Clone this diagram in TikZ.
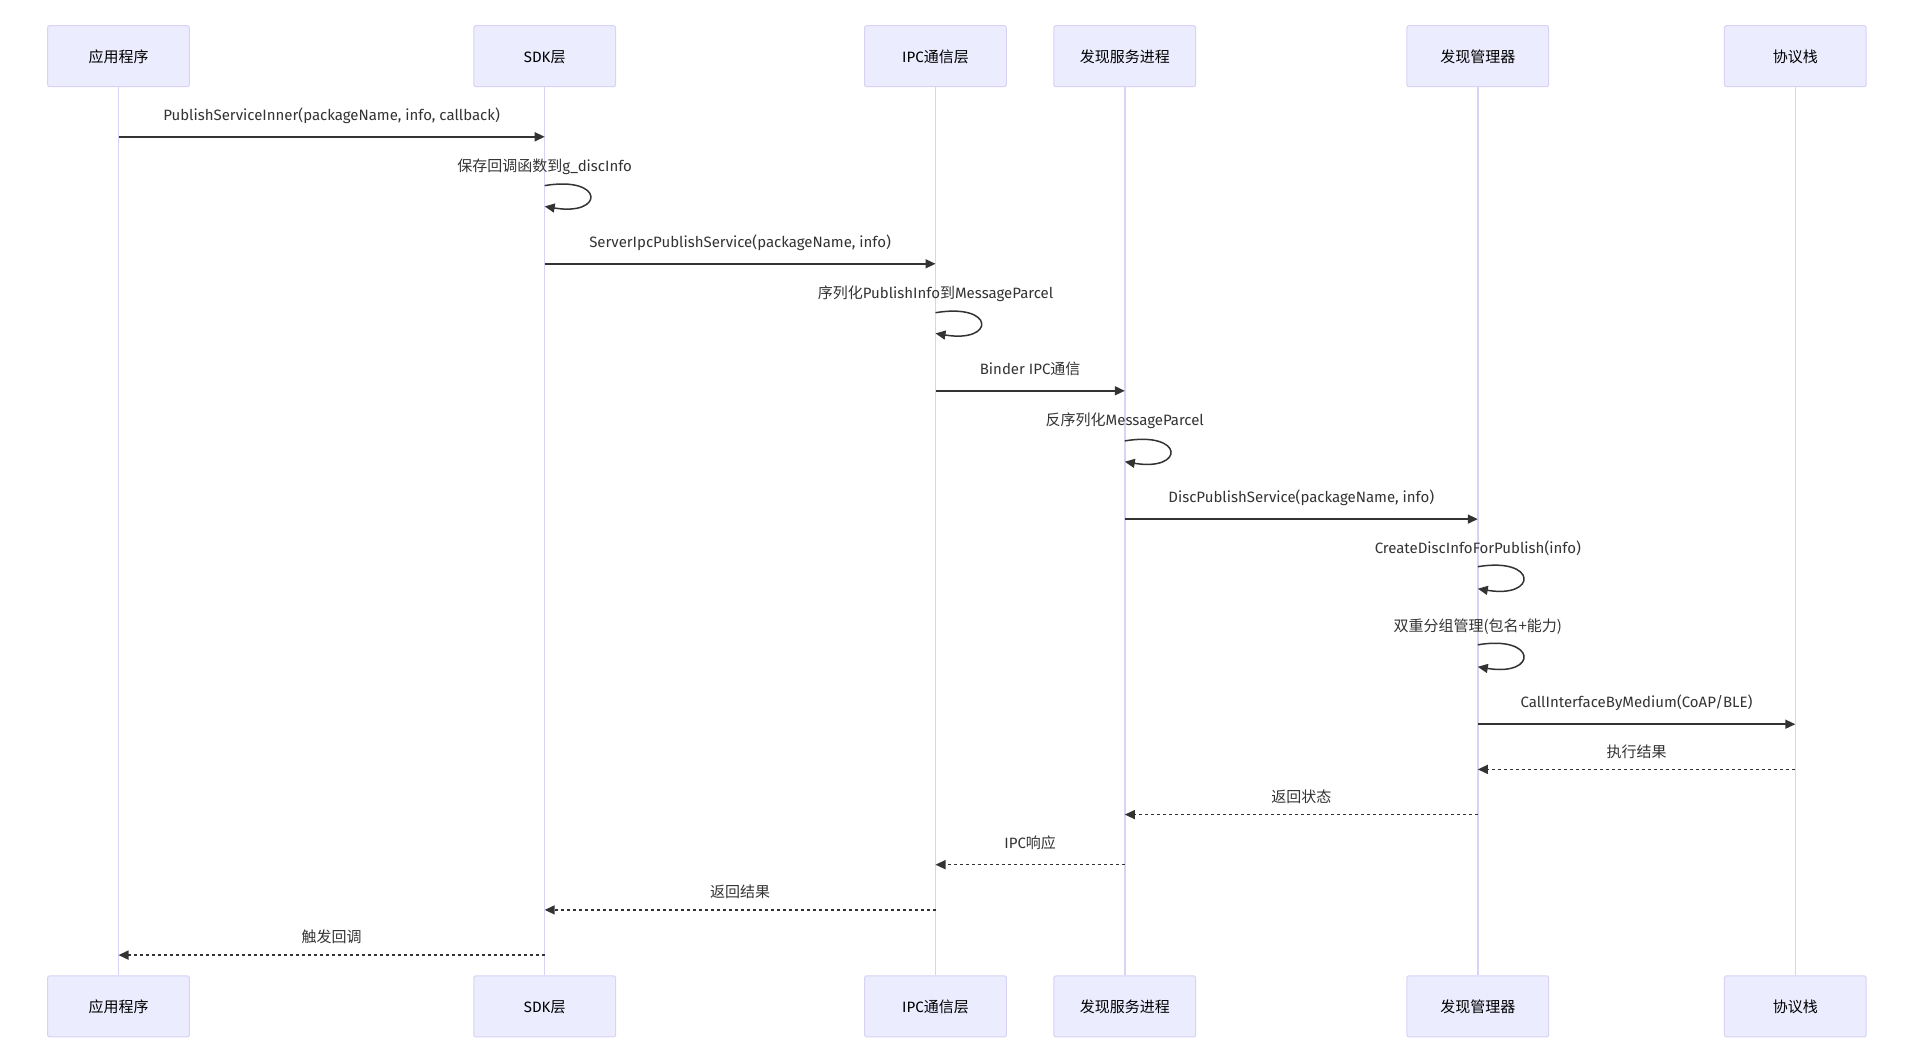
\documentclass[tikz,border=0pt]{standalone}
\usepackage{fontspec}
\setmainfont{Fira Sans}
\newfontfamily\zh{Noto Sans CJK SC}
\usetikzlibrary{arrows.meta, positioning}
\definecolor{actfill}{HTML}{ECECFF}
\definecolor{actline}{HTML}{D9D2F4}
\definecolor{msgcol}{HTML}{333333}

\begin{document}
\begin{tikzpicture}[x=1pt, y=-1pt,
    actor/.style={draw=actline, fill=actfill, line width=1pt, rounded corners=2pt,
        minimum width=141.7pt, minimum height=61.1pt, font=\fontsize{15}{17}\selectfont,
        text height=14pt, text depth=1pt},
    life/.style={draw=actline, line width=1.5pt},
    msg/.style={-{Triangle[length=10pt, width=9pt]}, draw=msgcol, line width=1.5pt},
    reply/.style={msg, dash pattern=on 3pt off 3pt},
    lbl/.style={font=\fontsize{15}{17}\selectfont, text=msgcol, inner sep=0pt,
        text height=11pt, text depth=3pt}
]
\useasboundingbox (0,0) rectangle (1915,1064);

% Actors (top)
\node[actor] (app) at (118.5, 56.2) {\zh 应用程序};
\node[actor] (sdk) at (544.7, 56.2) {SDK{\zh 层}};
\node[actor] (ipc) at (935.5, 56.2) {IPC{\zh 通信层}};
\node[actor] (svc) at (1124.8, 56.2) {\zh 发现服务进程};
\node[actor] (mgr) at (1477.8, 56.2) {\zh 发现管理器};
\node[actor] (stk) at (1795.3, 56.2) {\zh 协议栈};

% Actors (bottom)
\node[actor] (appb) at (118.5, 1006.4) {\zh 应用程序};
\node[actor] (sdkb) at (544.7, 1006.4) {SDK{\zh 层}};
\node[actor] (ipcb) at (935.5, 1006.4) {IPC{\zh 通信层}};
\node[actor] (svcb) at (1124.8, 1006.4) {\zh 发现服务进程};
\node[actor] (mgrb) at (1477.8, 1006.4) {\zh 发现管理器};
\node[actor] (stkb) at (1795.3, 1006.4) {\zh 协议栈};

% Lifelines
\draw[life] (app) -- (appb);
\draw[life] (sdk) -- (sdkb);
\draw[life] (ipc) -- (ipcb);
\draw[life] (svc) -- (svcb);
\draw[life] (mgr) -- (mgrb);
\draw[life] (stk) -- (stkb);

% Calls
\draw[msg] (app |- 0,136.8) -- (sdk |- 0,136.8)
    node[lbl, midway, above=12.5pt] (m1) {PublishServiceInner(packageName, info, callback)};
\node[lbl] (m2) at (sdk |- 0,167.4) {{\zh 保存回调函数到}g\_discInfo};
\draw[msg] (sdk |- 0,185.6) .. controls +(60,-10) and +(60,10) .. (sdk |- 0,206.4);

\draw[msg] (sdk |- 0,263.8) -- (ipc |- 0,263.8)
    node[lbl, midway, above=12.5pt] (m3) {ServerIpcPublishService(packageName, info)};
\node[lbl] (m4) at (ipc |- 0,294.4) {{\zh 序列化}PublishInfo{\zh 到}MessageParcel};
\draw[msg] (ipc |- 0,312.7) .. controls +(60,-10) and +(60,10) .. (ipc |- 0,333.4);

\draw[msg] (ipc |- 0,390.8) -- (svc |- 0,390.8)
    node[lbl, midway, above=12.5pt] (m5) {Binder IPC{\zh 通信}};
\node[lbl] (m6) at (svc |- 0,421.4) {{\zh 反序列化}MessageParcel};
\draw[msg] (svc |- 0,440.9) .. controls +(60,-10) and +(60,10) .. (svc |- 0,461.7);

\draw[msg] (svc |- 0,519.1) -- (mgr |- 0,519.1)
    node[lbl, midway, above=12.5pt] (m7) {DiscPublishService(packageName, info)};
\node[lbl] (m8) at (mgr |- 0,549.6) {CreateDiscInfoForPublish(info)};
\draw[msg] (mgr |- 0,566.7) .. controls +(60,-10) and +(60,10) .. (mgr |- 0,588.7);
\node[lbl] (m9) at (mgr |- 0,627.8) {\zh 双重分组管理(包名+能力)};
\draw[msg] (mgr |- 0,644.8) .. controls +(60,-10) and +(60,10) .. (mgr |- 0,666.8);

\draw[msg] (mgr |- 0,724.2) -- (stk |- 0,724.2)
    node[lbl, midway, above=12.5pt] (m10) {CallInterfaceByMedium(CoAP/BLE)};

% Returns
\draw[reply] (stk |- 0,769.4) -- (mgr |- 0,769.4)
    node[lbl, midway, above=8.5pt] (r1) {\zh 执行结果};
\draw[reply] (mgr |- 0,814.6) -- (svc |- 0,814.6)
    node[lbl, midway, above=8.5pt] (r2) {\zh 返回状态};
\draw[reply] (svc |- 0,864.7) -- (ipc |- 0,864.7)
    node[lbl, midway, above=12.5pt] (r3) {IPC{\zh 响应}};
\draw[reply] (ipc |- 0,909.9) -- (sdk |- 0,909.9)
    node[lbl, midway, above=8.5pt] (r4) {\zh 返回结果};
\draw[reply] (sdk |- 0,955.1) -- (app |- 0,955.1)
    node[lbl, midway, above=8.5pt] (r5) {\zh 触发回调};

\end{tikzpicture}
\end{document}
